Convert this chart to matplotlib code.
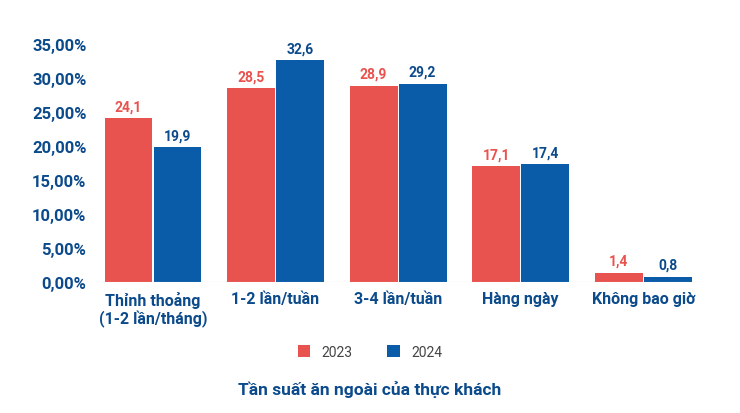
import matplotlib
matplotlib.use("Agg")
import matplotlib.pyplot as plt
import numpy as np

categories = ["Thỉnh thoảng\n(1-2 lần/tháng)", "1-2 lần/tuần", "3-4 lần/tuần", "Hàng ngày", "Không bao giờ"]
v2023 = [24.1, 28.5, 28.9, 17.1, 1.4]
v2024 = [19.9, 32.6, 29.2, 17.4, 0.8]
yticks = [0, 5, 10, 15, 20, 25, 30, 35]

red = "#E8534F"
blue = "#0A5CA8"
navy = "#0B4A8B"
plt.rcParams['font.family'] = ['Roboto', 'DejaVu Sans']

fig = plt.figure(figsize=(7.4, 4.14), dpi=100)
ax = fig.add_axes([0.128, 0.316, 0.82, 0.575])
x = np.arange(len(categories))
w = 0.39
off = 0.2
b1 = ax.bar(x - off, v2023, w, color=red, label="2023")
b2 = ax.bar(x + off, v2024, w, color=blue, label="2024")
for xi, v in zip(x, v2023):
    ax.text(xi - off, v + 0.7, f"{v:.1f}".replace(".", ","), ha="center", va="bottom",
            color=red, fontsize=10, fontweight="bold")
for xi, v in zip(x, v2024):
    ax.text(xi + off, v + 0.7, f"{v:.1f}".replace(".", ","), ha="center", va="bottom",
            color=navy, fontsize=10, fontweight="bold")
ax.set_ylim(0, 35)
ax.set_xlim(-0.475, len(categories) - 1 + 0.475)
ax.set_yticks(yticks)
ax.set_yticklabels([f"{t:.2f}%".replace(".", ",") for t in yticks], color=navy,
                   fontsize=12, fontweight="bold")
ax.set_xticks(x)
ax.set_xticklabels(categories, color=navy, fontsize=11.5, fontweight="bold")
ax.tick_params(length=0, pad=6)
for s in ax.spines.values():
    s.set_visible(False)
ax.axhline(0, color="#cccccc", lw=0.8)
fig.legend(handles=[b1, b2], loc="center", bbox_to_anchor=(0.5, 0.148), ncol=2,
           frameon=False, fontsize=10, handlelength=0.9, handleheight=0.9,
           columnspacing=2.5, labelcolor="#444444")
fig.text(0.5, 0.058, "Tần suất ăn ngoài của thực khách", ha="center", va="center",
         color=navy, fontsize=12.5, fontweight="bold")
fig.savefig("out.png", dpi=100)
